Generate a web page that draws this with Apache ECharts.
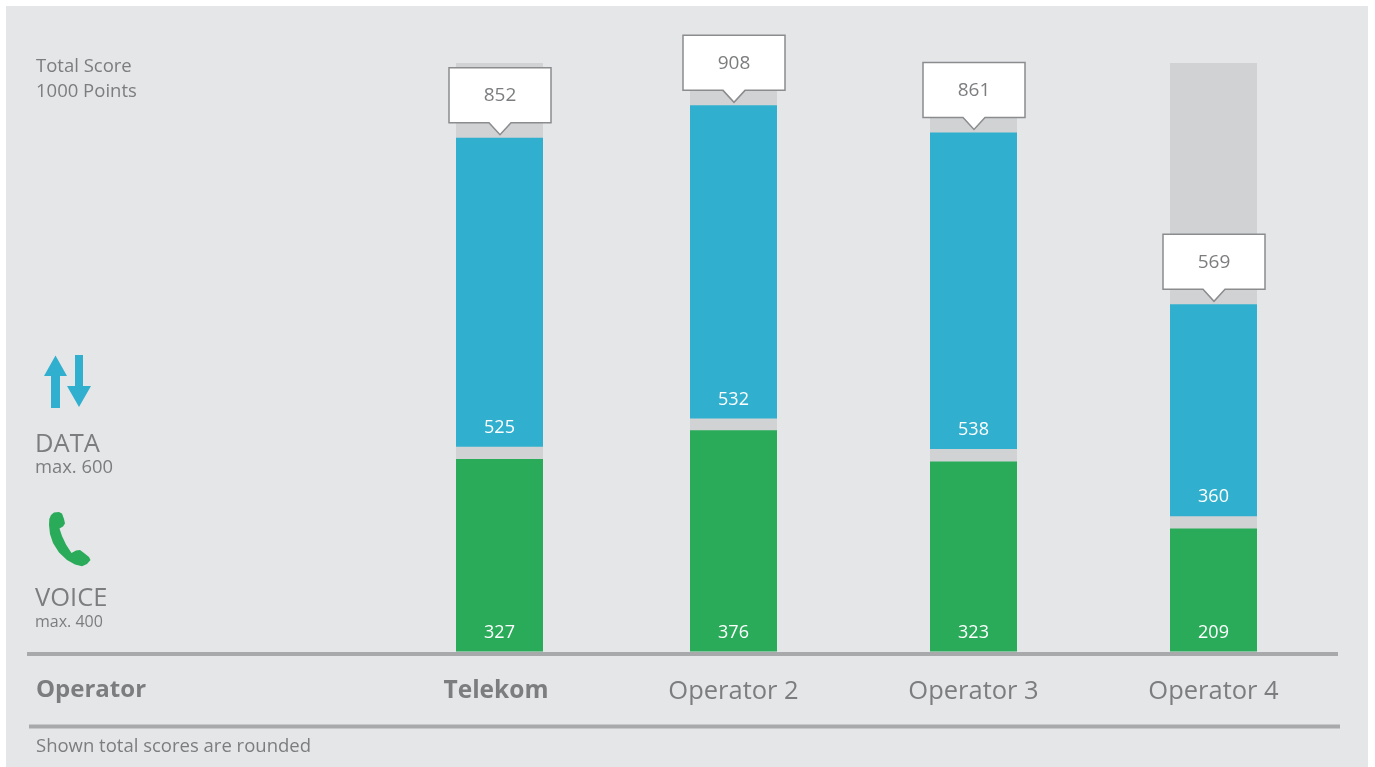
<!DOCTYPE html>
<html lang="en">

<head>
    <meta charset="utf-8" />
    <title>Total Score per Operator</title>
    <script src="https://cdn.jsdelivr.net/npm/echarts@6/dist/echarts.min.js"></script>
    <style>
        html, body { margin: 0; padding: 0; background: #fff; }
        #main { width: 1375px; height: 767px; }
    </style>
</head>

<body>
    <div id="main"></div>
    <script>
        var operators = ['Telekom', 'Operator 2', 'Operator 3', 'Operator 4'];
        var voice = [327, 376, 323, 209];
        var data = [525, 532, 538, 360];
        var spacer = [21, 20, 21, 21];
        var totals = [852, 908, 861, 569];
        var maxScore = 1000;

        // operators are not evenly spaced in the picture, so each gets its own grid
        var barLeft = [456, 690, 930, 1170];
        var barW = 87;
        var gridTop = 63;
        var gridH = 588.5;

        var fontName = '"Open Sans", sans-serif';
        var textColor = '#7c7d7f';
        var grey = '#d1d2d4';
        var blue = '#30b0ce';
        var green = '#2aab5a';
        var lineColor = '#a8a9ab';

        function drawCallout(params, api) {
            var p = api.coord([api.value(0), api.value(1)]);
            var cx = p[0] + 0.5;
            var tip = p[1] - 3;
            var bottom = tip - 12;
            var top = bottom - 55;
            return {
                type: 'group',
                children: [{
                    type: 'polygon',
                    shape: {
                        points: [
                            [cx - 51, top], [cx + 51, top], [cx + 51, bottom], [cx + 11, bottom],
                            [cx, tip], [cx - 11, bottom], [cx - 51, bottom]
                        ]
                    },
                    style: { fill: '#fff', stroke: '#8b8c8e', lineWidth: 1.5 }
                }, {
                    type: 'text',
                    style: {
                        x: cx, y: (top + bottom) / 2 + 0.5,
                        text: String(api.value(2)),
                        fill: textColor,
                        font: '19px ' + fontName,
                        align: 'center', verticalAlign: 'middle'
                    }
                }]
            };
        }

        var grids = [], xAxes = [], yAxes = [], series = [];
        operators.forEach(function (name, i) {
            grids.push({ left: barLeft[i], width: barW, top: gridTop, height: gridH });
            xAxes.push({
                type: 'category',
                gridIndex: i,
                data: [name],
                axisLine: { show: false },
                axisTick: { show: false },
                axisLabel: {
                    margin: 27,
                    fontFamily: fontName,
                    fontSize: i === 0 ? 24.5 : 25.5,
                    fontWeight: i === 0 ? 'bold' : 'normal',
                    color: textColor,
                    padding: i === 0 ? [0, 7, 0, 0] : 0
                }
            });
            yAxes.push({ type: 'value', gridIndex: i, min: 0, max: maxScore, show: false });

            var valueLabel = {
                show: true,
                position: 'insideBottom',
                distance: 10,
                color: '#fff',
                fontFamily: fontName,
                fontSize: 18
            };
            var stackId = 'op' + i;
            series.push({
                type: 'bar', name: 'VOICE', xAxisIndex: i, yAxisIndex: i, stack: stackId, barWidth: barW,
                data: [voice[i]],
                itemStyle: { color: green },
                showBackground: true,
                backgroundStyle: { color: grey },
                label: valueLabel
            }, {
                type: 'bar', name: 'gap', xAxisIndex: i, yAxisIndex: i, stack: stackId, barWidth: barW,
                data: [spacer[i]],
                itemStyle: { color: 'transparent' }
            }, {
                type: 'bar', name: 'DATA', xAxisIndex: i, yAxisIndex: i, stack: stackId, barWidth: barW,
                data: [data[i]],
                itemStyle: { color: blue },
                label: valueLabel
            }, {
                type: 'custom', name: 'Total', xAxisIndex: i, yAxisIndex: i, z: 10,
                renderItem: drawCallout,
                encode: { x: 0, y: 1 },
                data: [[0, voice[i] + spacer[i] + data[i], totals[i]]]
            });
        });

        function label(x, y, text, size, weight) {
            return {
                type: 'text', x: x, y: y, z: 5,
                style: {
                    text: text, fill: textColor, font: (weight || 'normal') + ' ' + size + 'px ' + fontName,
                    verticalAlign: 'middle'
                }
            };
        }

        function rule(x1, y1, x2, y2) {
            return {
                type: 'line', z: 4,
                shape: { x1: x1, y1: y1, x2: x2, y2: y2 },
                style: { stroke: lineColor, lineWidth: 4 }
            };
        }

        var myChart = echarts.init(document.getElementById('main'));
        myChart.setOption({
            animation: false,
            grid: grids,
            xAxis: xAxes,
            yAxis: yAxes,
            series: series,
            graphic: [
                // panel behind everything
                { type: 'rect', z: -10, silent: true, shape: { x: 6, y: 6, width: 1362, height: 761 }, style: { fill: '#e5e6e8' } },
                rule(27, 654, 1338, 654),
                rule(29, 726.5, 1340, 726.5),
                label(36, 67, 'Total Score', 18.5),
                label(36, 92, '1000 Points', 18.5),
                label(35, 445, 'DATA', 25.5),
                label(35, 468, 'max. 600', 18.4),
                label(35, 599, 'VOICE', 25.5),
                label(35, 622, 'max. 400', 16),
                label(36, 690, 'Operator', 24, 'bold'),
                label(36, 747, 'Shown total scores are rounded', 18.5),
                // up / down arrows
                { type: 'polygon', z: 5, shape: { points: [[55.5, 355.5], [67, 376], [60, 376], [60, 408], [51, 408], [51, 376], [44, 376]] }, style: { fill: blue } },
                { type: 'polygon', z: 5, shape: { points: [[75, 355], [83, 355], [83, 386], [91, 386], [79, 407], [67, 386], [75, 386]] }, style: { fill: blue } },
                // handset
                {
                    type: 'polygon', z: 5,
                    shape: {
                        points: [
                            [49.3, 519], [51, 515], [54, 512.5], [59, 512], [62, 513.5], [64, 519], [65, 523.5], [63, 526.5], [59.5, 528.5],
                            [62, 536], [66, 544.5], [71.5, 553], [76, 550.5], [80, 550], [84, 553], [89, 557], [90.5, 560], [87, 564],
                            [82, 566.3], [75, 564.5], [67, 560], [59, 552.5], [53, 543], [50, 534], [49, 525]
                        ]
                    },
                    style: { fill: green }
                }
            ]
        });
    </script>
</body>

</html>
